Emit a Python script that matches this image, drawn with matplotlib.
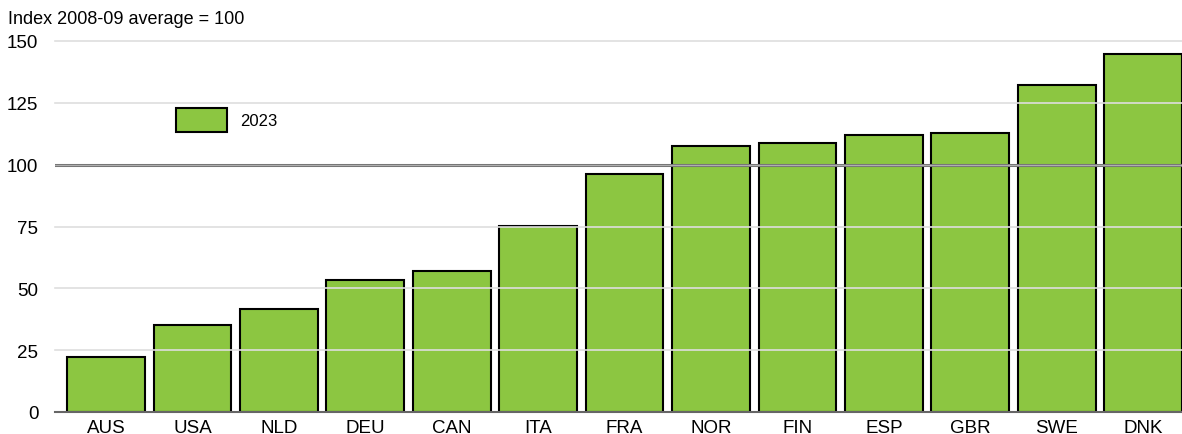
import matplotlib.pyplot as plt
import numpy as np

plt.rcParams['font.family'] = ['Liberation Sans', 'DejaVu Sans']

countries = ["AUS", "USA", "NLD", "DEU", "CAN", "ITA", "FRA", "NOR", "FIN", "ESP", "GBR", "SWE", "DNK"]
values_2023 = [22.2, 35.2, 41.8, 53.4, 57.0, 75.3, 96.3, 107.6, 108.7, 112.0, 112.7, 132.3, 144.7]
yticks = [0, 25, 50, 75, 100, 125, 150]

fig = plt.figure(figsize=(11.82, 4.35), dpi=100)
ax = fig.add_axes([55 / 1182, 22 / 435, 1 - 55 / 1182, 371 / 435])

x = np.arange(len(countries))
ax.bar(x, values_2023, width=0.9, color="#8cc641", edgecolor="black", linewidth=1.5, zorder=2, label="2023")

# gridlines drawn over the bars
for t in yticks[1:]:
    if t == 100:
        continue
    ax.axhline(t, color="#dedede", linewidth=1.2, zorder=3, clip_on=False)
ax.axhline(100, color="#777777", linewidth=2.2, zorder=4)
ax.axhline(100, color="#bbbbbb", linewidth=0.6, zorder=4)
ax.axhline(0, color="#666666", linewidth=1.5, zorder=4, clip_on=False)

ax.set_xlim(-0.59, 12.45)
ax.set_ylim(0, 150)
ax.set_xticks(x)
ax.set_xticklabels(countries, fontsize=13.5)
ax.set_yticks(yticks)
ax.set_yticklabels([str(t) for t in yticks], fontsize=13.5)
ax.tick_params(length=0, pad=5)
ax.tick_params(axis="y", pad=12)
for s in ax.spines.values():
    s.set_visible(False)

fig.text(8 / 1182, 1 - 19 / 435, "Index 2008-09 average = 100", fontsize=13, va="center", ha="left")

leg = ax.legend(loc="upper left", bbox_to_anchor=(0.107, 0.82), frameon=False, fontsize=12,
                handlelength=3.06, handleheight=1.85, handletextpad=0.84,
                borderpad=0, borderaxespad=0)

fig.savefig("out.png", dpi=100)
